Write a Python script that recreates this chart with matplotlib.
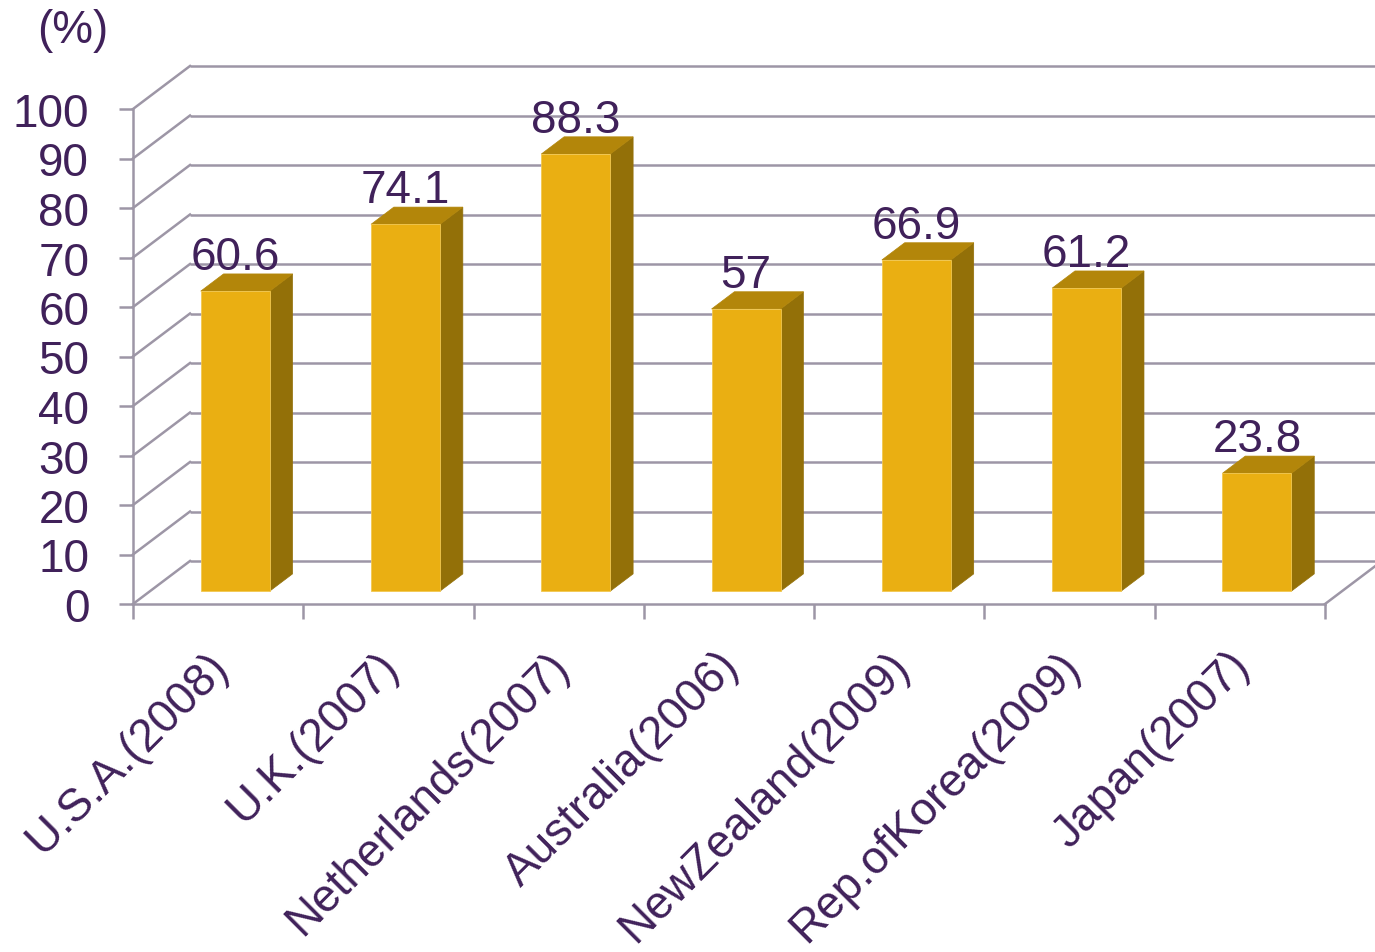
import matplotlib
matplotlib.use("Agg")
import matplotlib.pyplot as plt
from matplotlib.patches import Polygon

plt.rcParams['font.family'] = ['Liberation Sans', 'DejaVu Sans']

categories = ["U.S.A.(2008)", "U.K.(2007)", "Netherlands(2007)", "Australia(2006)",
              "NewZealand(2009)", "Rep.ofKorea(2009)", "Japan(2007)"]
values = [60.6, 74.1, 88.3, 57, 66.9, 61.2, 23.8]
yticks = list(range(0, 101, 10))
unit_label = "(%)"

TEXT = '#40215A'
GRID = '#9D96A6'
FRONT = '#EAAF12'
TOP = '#B3860A'
SIDE = '#937008'

W, H = 1375, 953
fig = plt.figure(figsize=(W / 100, H / 100), dpi=100)
ax = fig.add_axes([133 / W, (H - 605) / H, (1325 - 133) / W, (605 - 110) / H])
ax.set_xlim(0, len(categories))
ax.set_ylim(0, 100)
ax.patch.set_alpha(0)

# depth (oblique projection) in data units
px_x = (1325 - 133) / len(categories)
px_y = (605 - 110) / 100
ddx = 57 / px_x
ddy = 43 / px_y
f0, f1 = 0.30, 0.70
bw = 69 / px_x
lw = 1.8

# back wall grid lines + left wall diagonals
n = len(categories)
for v in yticks:
    ax.plot([ddx, n + ddx], [v + ddy, v + ddy], color=GRID, lw=lw, clip_on=False, zorder=1,
            solid_capstyle='butt')
    ax.plot([0, ddx], [v, v + ddy], color=GRID, lw=lw, clip_on=False, zorder=1)
# right floor edge
ax.plot([n, n + ddx], [0, ddy], color=GRID, lw=lw, clip_on=False, zorder=1)

# bars
for i, v in enumerate(values):
    x0 = i + 0.5 - bw / 2 + f0 * ddx
    y0 = f0 * ddy
    sx = (f1 - f0) * ddx
    sy = (f1 - f0) * ddy
    front = Polygon([(x0, y0), (x0 + bw, y0), (x0 + bw, y0 + v), (x0, y0 + v)],
                    closed=True, facecolor=FRONT, edgecolor='#F2C850', lw=0.6, zorder=3, clip_on=False)
    top = Polygon([(x0, y0 + v), (x0 + bw, y0 + v), (x0 + bw + sx, y0 + v + sy), (x0 + sx, y0 + v + sy)],
                  closed=True, facecolor=TOP, edgecolor=TOP, lw=0.5, zorder=3, clip_on=False)
    side = Polygon([(x0 + bw, y0), (x0 + bw + sx, y0 + sy), (x0 + bw + sx, y0 + v + sy), (x0 + bw, y0 + v)],
                   closed=True, facecolor=SIDE, edgecolor=SIDE, lw=0.5, zorder=3, clip_on=False)
    for p in (side, top, front):
        ax.add_patch(p)
    ax.text(x0 + bw / 2, y0 + v + sy + 1.0, f"{v:g}", ha='center', va='baseline',
            fontsize=33, color=TEXT, zorder=4)

# axes styling
for s in ('top', 'right'):
    ax.spines[s].set_visible(False)
for s in ('left', 'bottom'):
    ax.spines[s].set_color(GRID)
    ax.spines[s].set_linewidth(lw)
    ax.spines[s].set_zorder(2)
ax.set_yticks(yticks)
ax.set_yticklabels([str(t) for t in yticks])
ax.tick_params(axis='y', direction='out', length=10, width=lw, color=GRID,
               labelcolor=TEXT, labelsize=33, pad=21.5)
ax.set_xticks(range(n + 1))
ax.set_xticklabels([])
ax.tick_params(axis='x', direction='out', length=11, width=lw, color=GRID)

# category labels
for i, c in enumerate(categories):
    ax.text(i + 0.5 + 0.11, -39 / px_y, c, rotation=45, ha='right', va='top',
            rotation_mode='default', fontsize=33, color=TEXT, clip_on=False)

fig.text(73 / W, 1 - 31 / H, unit_label, ha='center', va='center', fontsize=33, color=TEXT)

fig.savefig("out.png", dpi=100)
